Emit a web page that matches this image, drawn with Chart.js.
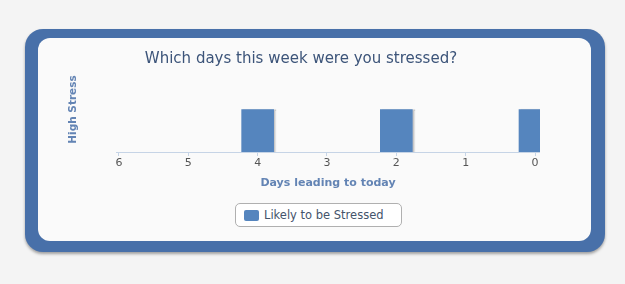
<!DOCTYPE html>
<html>
<head>
<meta charset="utf-8">
<script src="https://cdn.jsdelivr.net/npm/chart.js@4.4.1/dist/chart.umd.min.js"></script>
<style>
  body { margin: 0; background: #f4f4f4; width: 625px; height: 284px; overflow: hidden; font-family: "DejaVu Sans", sans-serif; }
  .frame { position: absolute; left: 25px; top: 29px; width: 580px; height: 223px; background: #4870a9;
           border-radius: 18px; box-shadow: 0 2px 3px rgba(0,0,0,0.35); }
  .panel { position: absolute; left: 38px; top: 38px; width: 553px; height: 203px; background: #fafafa; border-radius: 12px; }
  #stressChart { position: absolute; left: 41px; top: 42px; }
  #legend { position: absolute; left: 235px; top: 203px; width: 165px; height: 22px; border: 1px solid #b0b0b0;
            border-radius: 5px; background: #fff; box-sizing: content-box; }
  #legend .item { position: absolute; left: 8px; top: 0; height: 22px; display: flex; align-items: center; font-size: 11.5px; color: #44546b; }
  #legend .swatch { width: 15px; height: 11px; border-radius: 2px; margin-right: 5px; }
</style>
</head>
<body>
<div class="frame"></div>
<div class="panel"></div>
<canvas id="stressChart" width="499" height="153"></canvas>
<div id="legend"></div>
<script>
// Days before today (x axis runs from 6 down to 0)
const days = [6, 5, 4, 3, 2, 1, 0];
const tickLabels = ['6', '5', '4', '3', '2', '1', '0'];
// 1 = stressed that day, 0 = not
const stressed = [0, 0, 1, 0, 1, 0, 1];

const barColor = '#5585be';

// soft shadow on the right side of the bars
const barShadow = {
    id: 'barShadow',
    beforeDatasetsDraw(chart) {
        const c = chart.ctx;
        c.save();
        c.shadowColor = 'rgba(0,0,0,0.2)';
        c.shadowOffsetX = 2;
        c.shadowBlur = 1;
    },
    afterDatasetsDraw(chart) {
        chart.ctx.restore();
    }
};

// legend in a rounded box, built from the datasets
const htmlLegend = {
    id: 'htmlLegend',
    afterUpdate(chart) {
        const box = document.getElementById('legend');
        box.innerHTML = '';
        chart.data.datasets.forEach(ds => {
            const item = document.createElement('div');
            item.className = 'item';
            const sw = document.createElement('span');
            sw.className = 'swatch';
            sw.style.background = ds.backgroundColor;
            item.appendChild(sw);
            item.appendChild(document.createTextNode(ds.label));
            box.appendChild(item);
        });
    }
};

const ctx = document.getElementById('stressChart').getContext('2d');
const stressChart = new Chart(ctx, {
    type: 'bar',
    data: {
        datasets: [{
            label: 'Likely to be Stressed',
            // days with no stress get no bar
            data: days.map((d, i) => ({ x: d, y: stressed[i] || null })),
            backgroundColor: barColor,
            borderWidth: 0,
            barThickness: 32,
            clip: 0
        }]
    },
    options: {
        responsive: false,
        animation: false,
        layout: { padding: { left: 21, right: 0, top: 0, bottom: 2.6 } },
        scales: {
            x: {
                type: 'linear',
                reverse: true,
                offset: false,
                min: -0.072,
                max: 6.043,
                afterBuildTicks: scale => { scale.ticks = days.map(v => ({ value: v })); },
                ticks: {
                    callback: v => tickLabels[days.indexOf(v)],
                    color: '#555',
                    font: { family: 'DejaVu Sans', size: 11 },
                    padding: 1,
                    maxRotation: 0
                },
                grid: { drawOnChartArea: false, offset: false, tickLength: 4, color: '#c6d4e6' },
                border: { color: '#c6d4e6' },
                title: {
                    display: true,
                    text: 'Days leading to today',
                    color: '#6384b4',
                    font: { family: 'DejaVu Sans', size: 11, weight: 'bold' },
                    padding: { top: 5, bottom: 3 }
                }
            },
            y: {
                min: 0,
                max: 2,
                ticks: { display: false },
                grid: { display: false },
                border: { display: false },
                title: {
                    display: true,
                    text: 'High Stress',
                    color: '#6384b4',
                    font: { family: 'DejaVu Sans', size: 10.5, weight: 'bold' },
                    padding: { top: 5, bottom: 28.4 }
                }
            }
        },
        plugins: {
            legend: { display: false },
            tooltip: { enabled: false },
            title: {
                display: true,
                text: 'Which days this week were you stressed?',
                color: '#3c5479',
                font: { family: 'DejaVu Sans', size: 15, weight: 'normal' },
                padding: { top: 8.5, bottom: -1.5 }
            }
        }
    },
    plugins: [barShadow, htmlLegend]
});
</script>
</body>
</html>
